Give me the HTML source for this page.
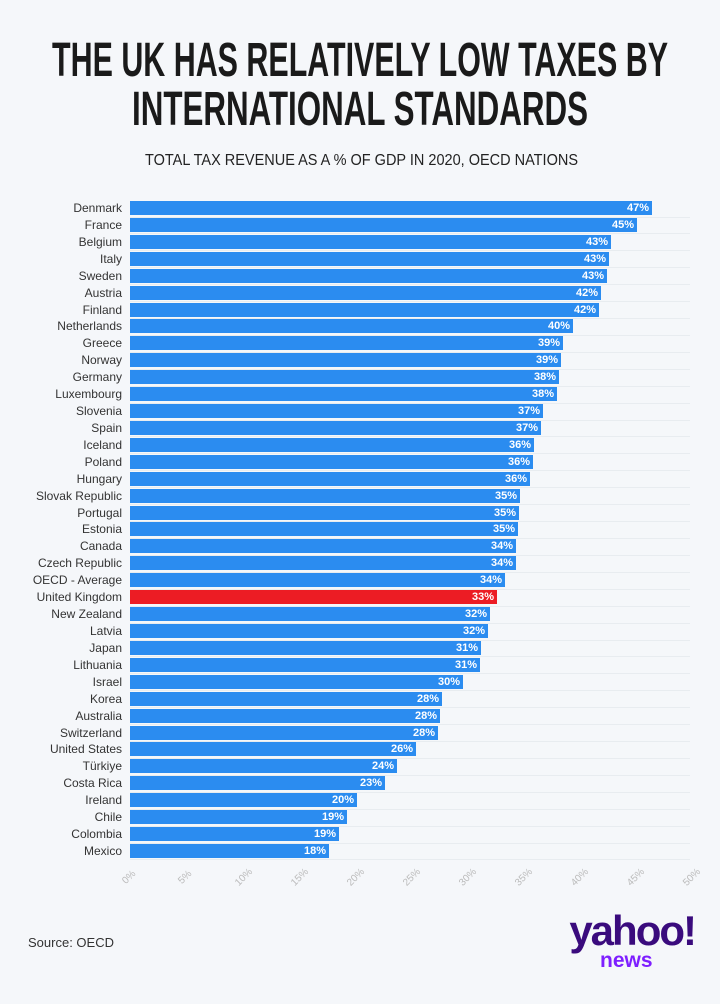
<!DOCTYPE html>
<html><head><meta charset="utf-8"><style>
body{margin:0;background:#fff}
#c{position:relative;width:720px;height:1004px;background:#f5f7fa;overflow:hidden;font-family:"Liberation Sans",sans-serif}
.lab{position:absolute;right:598px;font-size:12px;color:#333;white-space:nowrap;line-height:14px}
.bar{position:absolute;left:130px;height:14px;background:#2b8cf0}
.bar span{position:absolute;right:3px;top:0;font-size:11px;line-height:14px;color:#fff;font-weight:bold}
.grid{position:absolute;left:130px;width:560px;height:1px;background:#e8ecf0}
.tick{position:absolute;top:872px;font-size:10px;color:#bbb;transform:rotate(-45deg);transform-origin:center}
</style></head><body><div id="c">
<svg style="position:absolute;left:0;top:0" width="720" height="180">
<text x="52" y="76" textLength="616" lengthAdjust="spacingAndGlyphs" font-family="Liberation Sans" font-weight="bold" font-size="48" fill="#1a1a1a">THE UK HAS RELATIVELY LOW TAXES BY</text>
<text x="132" y="125" textLength="456" lengthAdjust="spacingAndGlyphs" font-family="Liberation Sans" font-weight="bold" font-size="48" fill="#1a1a1a">INTERNATIONAL STANDARDS</text>
<text x="145" y="165" textLength="433" lengthAdjust="spacingAndGlyphs" font-family="Liberation Sans" font-size="16" fill="#222">TOTAL TAX REVENUE AS A % OF GDP IN 2020, OECD NATIONS</text>
</svg>
<div id="rows"></div>
<div style="position:absolute;left:28px;top:935px;font-size:13px;color:#333">Source: OECD</div>
<div style="position:absolute;left:550px;top:910px;width:145px;text-align:right;font-weight:bold;font-size:42px;color:#3a0b7d;letter-spacing:-2px;line-height:42px">yahoo!</div>
<div style="position:absolute;left:600px;top:950px;font-weight:bold;font-size:21px;color:#7e1fff;line-height:22px">news</div>
</div>
<script>
var d=[["Denmark",652,47],["France",637,45],["Belgium",611,43],["Italy",609,43],["Sweden",607,43],["Austria",601,42],["Finland",599,42],["Netherlands",573,40],["Greece",563,39],["Norway",561,39],["Germany",559,38],["Luxembourg",557,38],["Slovenia",543,37],["Spain",541,37],["Iceland",534,36],["Poland",533,36],["Hungary",530,36],["Slovak Republic",520,35],["Portugal",519,35],["Estonia",518,35],["Canada",516,34],["Czech Republic",516,34],["OECD - Average",505,34],["United Kingdom",497,33],["New Zealand",490,32],["Latvia",488,32],["Japan",481,31],["Lithuania",480,31],["Israel",463,30],["Korea",442,28],["Australia",440,28],["Switzerland",438,28],["United States",416,26],["Türkiye",397,24],["Costa Rica",385,23],["Ireland",357,20],["Chile",347,19],["Colombia",339,19],["Mexico",329,18]];
var h="";
d.forEach(function(r,i){var y=201+i*16.92;
h+='<div class="grid" style="top:'+(y+15.5)+'px"></div>';
h+='<div class="lab" style="top:'+y+'px">'+r[0]+'</div>';
h+='<div class="bar" style="top:'+y+'px;width:'+(r[1]-130)+'px;'+(r[0]=="United Kingdom"?'background:#ec1c24':'')+'"><span>'+r[2]+'%</span></div>';});
for(var k=0;k<=10;k++){h+='<div class="tick" style="left:'+(122+k*56)+'px">'+(k*5)+'%</div>';}
document.getElementById("rows").innerHTML=h;
</script>
</body></html>
